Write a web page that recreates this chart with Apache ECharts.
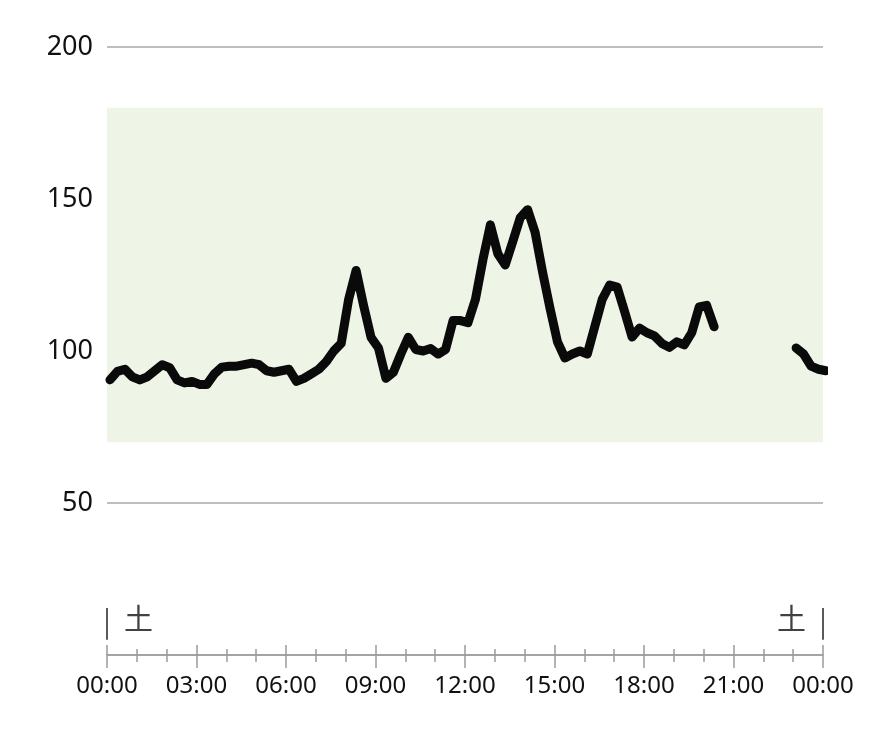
<!DOCTYPE html>
<html>
<head>
<meta charset="utf-8">
<script src="https://cdn.jsdelivr.net/npm/echarts@6/dist/echarts.min.js"></script>
<style>
html,body{margin:0;padding:0;background:#fff;}
#chart{width:870px;height:744px;}
</style>
</head>
<body>
<div id="chart"></div>
<script>
// Sampling: first reading at 00:06, then every 15 minutes (minutes of day)
var startMinute = 6;
var stepMinutes = 15;
// Glucose readings (mg/dL); null = no data
var glucose = [
  90.5, 93.3, 94, 91.5, 90.5, 91.5, 93.5, 95.5, 94.5, 90.5,
  89.5, 90, 89, 89, 92.5, 94.7, 95, 95, 95.5, 96,
  95.5, 93.5, 93, 93.5, 94, 90, 91, 92.5, 94, 96.5,
  100, 102.5, 117, 126.5, 115, 104.5, 101, 91, 93, 99,
  104.5, 100.5, 100, 100.8, 99, 100.5, 110, 110, 109.3, 117,
  130, 141.5, 132, 128.3, 136, 143.8, 146.5, 139, 126, 114,
  103, 97.7, 99, 100, 99, 108, 117, 121.7, 121, 113,
  104.6, 107.5, 106, 105, 102.5, 101.2, 103, 102, 106, 114.5,
  115, 108, null, null, null, null, null, null, null, null,
  null, null, 101, 99, 95, 94, 93.5
];
var targetRange = [70, 180];
var yTicks = [0, 50, 100, 150, 200];
var xTickLabels = ["00:00","03:00","06:00","09:00","12:00","15:00","18:00","21:00","00:00"];
var dayLabels = ["土", "土"];
var dayMarks = [0, 1440];

var seriesData = glucose.map(function (v, i) {
  return [startMinute + i * stepMinutes, v];
});

var chart = echarts.init(document.getElementById('chart'));
var axisGray = '#9a9a9a';
chart.setOption({
  animation: false,
  backgroundColor: '#ffffff',
  grid: { left: 107, right: 47, top: 47, bottom: 89 },
  xAxis: [
    {
      type: 'value', min: 0, max: 1440, interval: 180, position: 'bottom',
      axisLine: { show: true, lineStyle: { color: axisGray, width: 1.5 } },
      axisTick: { show: true, length: 13, inside: false, lineStyle: { color: axisGray, width: 1.5 } },
      minorTick: { show: true, splitNumber: 3, length: 7, lineStyle: { color: axisGray, width: 1.5 } },
      splitLine: { show: false },
      axisLabel: {
        margin: 19, fontSize: 24, color: '#111', fontFamily: 'Noto Sans',
        formatter: function (v) { return xTickLabels[Math.round(v / 180)]; }
      }
    },
    {
      type: 'value', min: 0, max: 1440, interval: 180, position: 'bottom',
      axisLine: { show: false },
      axisTick: { show: true, length: 10, inside: true, lineStyle: { color: axisGray, width: 1.5 } },
      minorTick: { show: true, splitNumber: 3, length: 6, lineStyle: { color: axisGray, width: 1.5 } },
      splitLine: { show: false },
      axisLabel: { show: false }
    }
  ],
  yAxis: {
    type: 'value', min: yTicks[0], max: yTicks[yTicks.length - 1], interval: 50,
    axisLine: { show: false },
    axisTick: { show: false },
    splitLine: { show: true, lineStyle: { color: '#a8a8a8', width: 1.5 } },
    axisLabel: {
      margin: 14, fontSize: 27, color: '#111', fontFamily: 'Noto Sans',
      formatter: function (v) { return v === 0 ? '' : String(v); }
    }
  },
  series: [
    {
      type: 'line',
      xAxisIndex: 0,
      data: seriesData,
      showSymbol: false,
      connectNulls: false,
      clip: true,
      lineStyle: { color: '#0a0a0a', width: 9, cap: 'round', join: 'round' },
      z: 5,
      markArea: {
        silent: true,
        itemStyle: { color: '#eef4e6' },
        data: [[{ yAxis: targetRange[0] }, { yAxis: targetRange[1] }]]
      }
    },
    {
      type: 'scatter',
      xAxisIndex: 0,
      symbolSize: 0,
      silent: true,
      data: dayMarks.map(function (m, i) {
        return {
          value: [m, 11.8],
          label: {
            show: true, formatter: dayLabels[i],
            position: i === 0 ? 'right' : 'left', distance: 17,
            fontSize: 29, color: '#111', fontFamily: 'Noto Sans CJK JP'
          }
        };
      }),
      markLine: {
        silent: true, symbol: 'none',
        label: { show: false },
        lineStyle: { color: '#222', width: 1.5, type: 'solid' },
        data: dayMarks.map(function (m) {
          return [{ coord: [m, 5] }, { coord: [m, 15.5] }];
        })
      }
    }
  ]
});
</script>
</body>
</html>
